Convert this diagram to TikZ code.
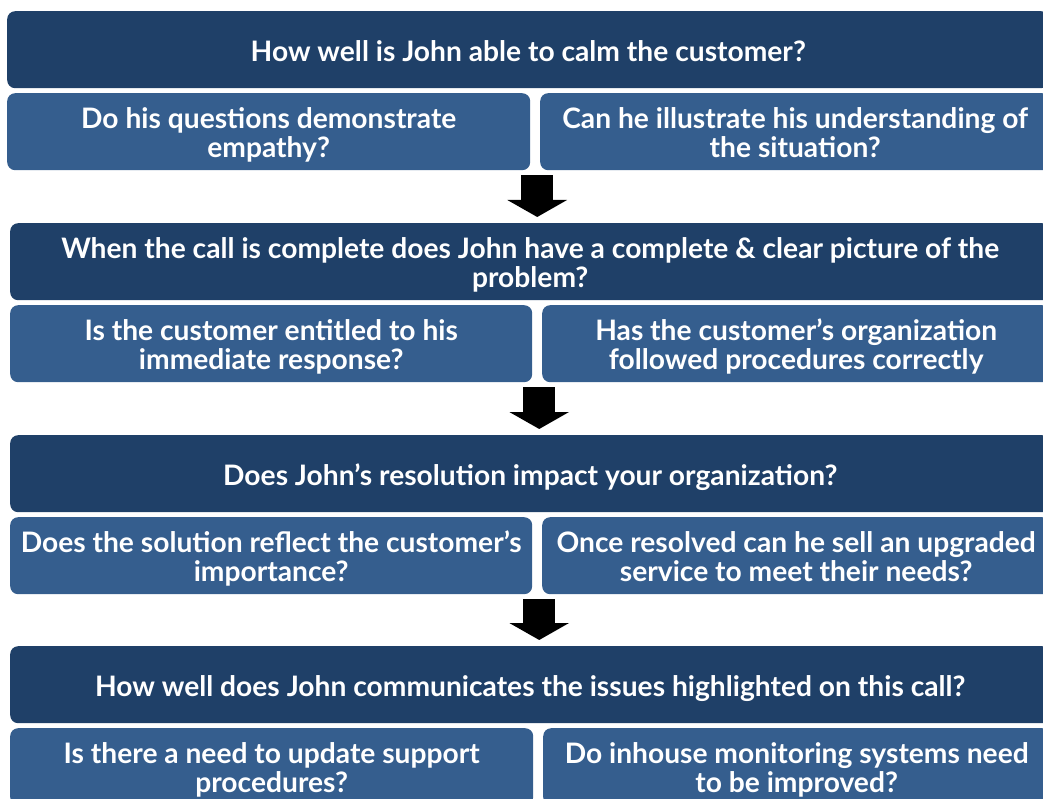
\documentclass[tikz,border=0pt]{standalone}
\usepackage{fontspec}
\setmainfont{Lato}
\usetikzlibrary{arrows.meta,calc}
\definecolor{darkblue}{RGB}{31,64,104}
\definecolor{lightblue}{RGB}{53,94,142}
\newcommand{\qtop}{\rule{0pt}{28pt}}
\newcommand{\qbottom}{\rule[-5pt]{0pt}{5pt}}
\begin{document}
\begin{tikzpicture}[x=1pt,y=-1pt]
    \tikzstyle{main}=[rectangle,rounded corners=8pt,fill=darkblue,text=white,anchor=north west,minimum width=1040pt,minimum height=77pt,inner sep=0pt,align=center,font=\bfseries\fontsize{28.2}{29}\selectfont]
    \tikzstyle{sub}=[main,fill=lightblue,minimum width=522pt]
    \tikzstyle{down}=[line width=32pt,-{Triangle[width=59pt,length=17pt]},shorten <=5pt,shorten >=6pt]
    \useasboundingbox (0,0) rectangle (1043,799);
    \clip (0,0) rectangle (1043,799);

    \node[main,minimum width=1042pt] (M-1) at (7,11) {\qtop How well is John able to calm the customer?\qbottom};
    \node[sub,minimum width=523pt] (L-1) at (7,93) {\qtop Do his questions demonstrate\\empathy?\qbottom};
    \node[sub,minimum width=510pt] (R-1) at (540,93) {\qtop Can he illustrate his understanding of\\the situation?\qbottom};

    \node[main] (M-2) at (10,223) {\qtop When the call is complete does John have a complete \& clear picture of the\\problem?\qbottom};
    \node[sub] (L-2) at (10,305) {\qtop Is the customer entitled to his\\immediate response?\qbottom};
    \node[sub,minimum width=508pt] (R-2) at (542,305) {\qtop Has the customer’s organization\\followed procedures correctly\qbottom};

    \node[main] (M-3) at (10,435) {\qtop Does John’s resolution impact your organization?\qbottom};
    \node[sub] (L-3) at (10,517) {\qtop Does the solution reflect the customer’s\\importance?\qbottom};
    \node[sub,minimum width=508pt] (R-3) at (542,517) {\qtop Once resolved can he sell an upgraded\\service to meet their needs?\qbottom};

    \node[main] (M-4) at (10,646) {\qtop How well does John communicates the issues highlighted on this call?\qbottom};
    \node[sub,minimum width=523pt] (L-4) at (10,728) {\qtop Is there a need to update support\\procedures?\qbottom};
    \node[sub,minimum width=507pt] (R-4) at (543,728) {\qtop Do inhouse monitoring systems need\\to be improved?\qbottom};

    \foreach \from/\to in {1/2, 2/3, 3/4}
    {
        \coordinate (G-\from) at ([xshift=2pt]$(L-\from.south east)!0.5!(R-\from.south west)$);
        \draw[down] (G-\from) -- (G-\from |- M-\to.north);
    }
\end{tikzpicture}
\end{document}
